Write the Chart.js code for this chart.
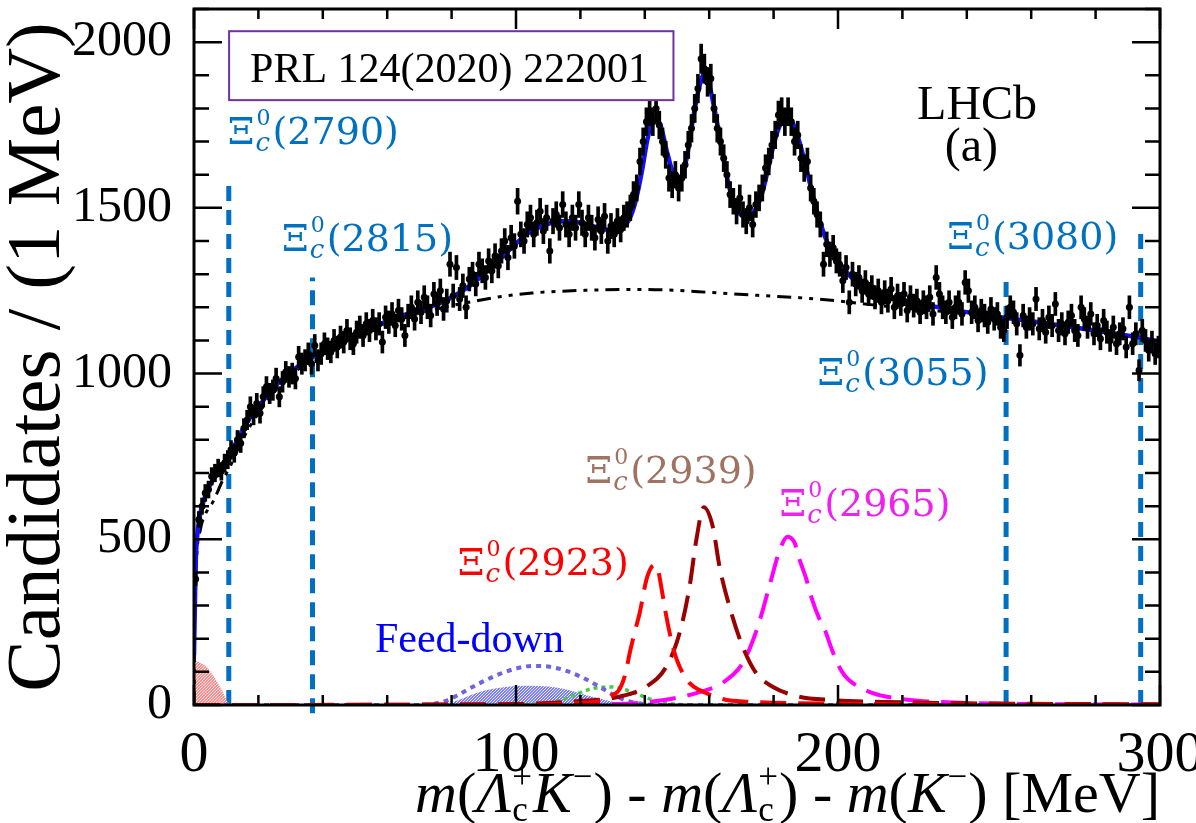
<!DOCTYPE html>
<html>
<head>
<meta charset="utf-8">
<script src="https://cdn.jsdelivr.net/npm/chart.js@4.4.0/dist/chart.umd.min.js"></script>
<style>
  html, body { margin: 0; padding: 0; background: #fff; }
  #wrap { width: 1196px; height: 823px; }
</style>
</head>
<body>
<div id="wrap"><canvas id="c" width="1196" height="823"></canvas></div>
<script>
// candidates per 1 MeV bin, bins start at 0 MeV
const counts = [
  380, 560, 600, 640, 650, 690, 700, 715, 705, 730,
  740, 770, 760, 800, 790, 835, 860, 900, 875, 910,
  880, 930, 960, 940, 950, 985, 930, 975, 1005, 990,
  1000, 985, 1050, 1030, 1040, 1060, 1030, 1085, 1040, 1060,
  1090, 1075, 1065, 1100, 1080, 1110, 1095, 1130, 1105, 1090,
  1125, 1140, 1115, 1150, 1130, 1160, 1135, 1150, 1095, 1170,
  1155, 1180, 1145, 1190, 1165, 1115, 1175, 1200, 1165, 1215,
  1185, 1230, 1200, 1175, 1240, 1210, 1250, 1195, 1220, 1330,
  1235, 1320, 1225, 1265, 1200, 1285, 1300, 1270, 1330, 1310,
  1290, 1340, 1310, 1355, 1325, 1370, 1400, 1350, 1410, 1385,
  1520, 1420, 1400, 1450, 1470, 1420, 1455, 1490, 1430, 1470,
  1370, 1460, 1480, 1440, 1510, 1450, 1420, 1470, 1440, 1510,
  1455, 1420, 1470, 1440, 1410, 1465, 1430, 1475, 1400, 1445,
  1420, 1460, 1435, 1470, 1480, 1500, 1540, 1560, 1640, 1700,
  1760, 1790, 1760, 1800, 1750, 1700, 1660, 1590, 1570, 1600,
  1560, 1590, 1630, 1690, 1740, 1800, 1860, 1950, 1920, 1880,
  1890, 1800, 1740, 1700, 1650, 1600, 1540, 1520, 1490, 1530,
  1480, 1460, 1500, 1450, 1510, 1530, 1560, 1620, 1640, 1690,
  1720, 1780, 1790, 1760, 1790, 1760, 1700, 1720, 1650, 1620,
  1640, 1560, 1520, 1480, 1450, 1330, 1390, 1360, 1380, 1340,
  1330, 1280, 1320, 1215, 1300, 1270, 1290, 1250, 1275, 1240,
  1260, 1230, 1250, 1215, 1245, 1220, 1255, 1200, 1235, 1210,
  1240, 1190, 1230, 1205, 1220, 1185, 1215, 1200, 1230, 1180,
  1290, 1240, 1200, 1185, 1215, 1170, 1200, 1215, 1180, 1275,
  1250, 1185, 1200, 1160, 1190, 1175, 1155, 1195, 1165, 1180,
  1140, 1130, 1170, 1200, 1185, 1150, 1055, 1175, 1140, 1165,
  1150, 1225, 1135, 1160, 1125, 1170, 1145, 1210, 1130, 1150,
  1120, 1155, 1175, 1130, 1115, 1200, 1165, 1140, 1180, 1120,
  1145, 1105, 1160, 1125, 1100, 1140, 1090, 1120, 1135, 1080,
  1200, 1090, 1120, 1010, 1130, 1100, 1070, 1095, 1060, 1080
];

// total fit
const fitX = [0, 0.5, 1, 2, 3, 4, 6, 8, 10, 12, 14, 17, 20, 25, 30, 36, 42, 48, 55, 61, 67, 73, 79, 85, 90, 95, 100, 104, 110, 115, 120, 125, 130, 133, 135, 137, 139, 141, 143, 145, 147, 149, 151, 153, 155, 157, 158.5, 160, 162, 164, 166, 168, 170, 172, 174, 176, 178, 180, 182, 184, 186, 188, 190, 192, 194, 196, 198, 200, 204, 208, 213, 219, 227, 235, 244, 252, 262, 271, 281, 291, 300];
const fitY = [150, 420, 510, 580, 615, 645, 680, 705, 728, 770, 810, 862, 900, 960, 1005, 1045, 1075, 1103, 1135, 1163, 1182, 1200, 1225, 1260, 1300, 1345, 1392, 1425, 1452, 1460, 1455, 1442, 1432, 1440, 1462, 1515, 1605, 1715, 1772, 1745, 1665, 1600, 1588, 1650, 1770, 1868, 1905, 1872, 1780, 1672, 1572, 1505, 1478, 1473, 1490, 1530, 1605, 1690, 1750, 1770, 1755, 1700, 1625, 1545, 1472, 1412, 1370, 1340, 1292, 1265, 1242, 1225, 1208, 1193, 1180, 1168, 1155, 1143, 1128, 1113, 1097];

// combinatorial background
const bkgX = [0, 0.2, 0.8, 2, 3, 6, 9, 11, 14, 17, 20, 25, 30, 40, 50, 60, 70, 80, 87, 95, 105, 113, 125, 139, 150, 160, 175, 188, 201, 210, 220, 235, 252, 271, 291, 300];
const bkgY = [0, 250, 440, 530, 565, 615, 680, 715, 780, 835, 880, 945, 995, 1060, 1110, 1150, 1182, 1205, 1218, 1232, 1243, 1248, 1252, 1254, 1251, 1245, 1236, 1229, 1218, 1208, 1198, 1185, 1166, 1142, 1113, 1097];

// Xi_c(2923)
const s2923X = [0, 100, 120, 126, 130, 132, 134, 135.3, 137, 138.4, 140.5, 142, 143.3, 144.3, 145.1, 146.7, 148.7, 150, 151.8, 154, 157, 161, 165, 172, 180, 200, 230, 300];
const s2923Y = [0, 1, 6, 12, 30, 45, 95, 156, 225, 277, 378, 415, 423, 400, 357, 267, 176, 135, 96, 65, 45, 28, 16, 10, 7, 4, 2, 1];

// Xi_c(2939)
const s2939X = [0, 100, 120, 132, 140.4, 146.7, 150.8, 153.9, 156, 158.3, 161.1, 163.2, 166.3, 170.4, 174.6, 179.7, 188, 198, 215, 240, 270, 300];
const s2939Y = [0, 3, 12, 25, 55, 116, 217, 357, 498, 597, 539, 418, 297, 176, 96, 55, 25, 15, 9, 5, 3, 2];

// Xi_c(2965)
const s2965X = [0, 100, 130, 140, 148, 156, 164, 170, 173, 176, 179, 182, 184.3, 186.5, 188, 190, 192, 194, 196, 198, 200, 202, 204.6, 210.8, 217, 225, 240, 260, 300];
const s2965Y = [0, 1, 3, 8, 18, 36, 66, 120, 180, 265, 370, 470, 508, 490, 440, 385, 317, 265, 225, 170, 122, 90, 66, 36, 22, 13, 6, 3, 1];

// feed-down (dotted) and its hatched part
const feedX = [0, 70, 74, 78, 82, 86, 90, 95, 100, 105, 110, 115, 120, 125, 130, 134, 138, 142, 146, 300];
const feedY = [0, 0, 3, 12, 30, 52, 72, 94, 110, 118, 116, 105, 86, 60, 32, 14, 5, 1, 0, 0];
const feed2X = [74, 78, 82, 86, 90, 95, 100, 105, 110, 115, 120, 125, 130, 135, 140];
const feed2Y = [0, 4, 14, 30, 43, 52, 57, 58, 56, 48, 35, 22, 10, 3, 0];

// green dotted component
const greenX = [100, 106, 110, 114, 118, 122, 126, 130, 134, 138, 142, 146, 150, 155];
const greenY = [0, 2, 6, 15, 30, 45, 53, 54, 46, 32, 17, 7, 2, 0];

// threshold component near 0
const thrX = [0, 1, 2, 3, 4, 5, 6, 7, 8, 9, 10, 11, 12];
const thrY = [132, 131, 127, 122, 114, 102, 88, 72, 56, 38, 18, 3, 0];

// known states marked by vertical lines
const stateNames = ['2790', '2815', '3055', '3080'];
const stateX = [10.8, 36.8, 252.2, 294.0];
const stateLow = [0, -25, 0, 0];
const stateTop = [1580, 1290, 1290, 1435];

const xy = (xs, ys) => xs.map((x, i) => ({ x: x, y: ys[i] }));

function hatch(color) {
  const c = document.createElement('canvas');
  c.width = 3; c.height = 3;
  const g = c.getContext('2d');
  g.fillStyle = color;
  g.fillRect(0, 0, 3, 3);
  g.fillStyle = 'rgba(255,255,255,0.85)';
  g.fillRect(0, 0, 1, 1);
  g.fillRect(2, 1, 1, 1);
  g.fillRect(1, 2, 1, 1);
  return g.createPattern(c, 'repeat');
}

const pts = counts.map((v, i) => ({ x: i + 0.5, y: v }));
const errs = counts.map((v, i) => ({ x: i + 0.5, y: [v - Math.sqrt(v), v + Math.sqrt(v)] }));

const curve = (data, color, width, dash, order) => ({
  type: 'line', data: data, borderColor: color, borderWidth: width, borderDash: dash,
  pointRadius: 0, fill: false, cubicInterpolationMode: 'monotone', order: order
});

const datasets = [
  { type: 'line', data: pts, showLine: false, pointRadius: 3.5, pointBackgroundColor: '#000',
    pointBorderWidth: 0, order: 0 },
  { type: 'bar', data: errs, backgroundColor: '#000', barThickness: 3, grouped: false, order: 1 },
  curve(xy(fitX, fitY), '#1010ff', 4.5, [], 2),
  curve(xy(bkgX, bkgY), '#000', 3, [14, 7, 4, 7, 4, 7], 3),
  curve(xy(s2923X, s2923Y), '#ff0000', 4, [26, 12], 4),
  curve(xy(s2939X, s2939Y), '#990000', 4, [26, 12], 4),
  curve(xy(s2965X, s2965Y), '#ff00ff', 4, [26, 12], 4),
  curve(xy(feedX, feedY), '#6e64e0', 4, [5, 5], 5),
  curve(xy(greenX, greenY), '#44cc44', 3.5, [4, 4], 5),
  Object.assign(curve(xy(feed2X, feed2Y), 'transparent', 0, [], 6),
    { fill: 'origin', backgroundColor: hatch('rgba(70,70,255,0.7)') }),
  Object.assign(curve(xy(thrX, thrY), 'transparent', 0, [], 6),
    { fill: 'origin', backgroundColor: hatch('rgba(255,90,90,0.7)') })
];
stateX.forEach((x, i) => {
  datasets.push({ type: 'line', data: [{ x: x, y: stateLow[i] }, { x: x, y: stateTop[i] }],
    borderColor: '#0070c0', borderWidth: 5, borderDash: [15, 9], pointRadius: 0, clip: false, order: 7 });
});

// Xi_c labels: [name, x, y(baseline), colour]
const labels = [
  ['2790', 10.5, 1692, '#0070c0'],
  ['2815', 27.3, 1369, '#0070c0'],
  ['3055', 193.6, 967, '#0070c0'],
  ['3080', 233.9, 1375, '#0070c0'],
  ['2923', 81.9, 393, '#ff0000'],
  ['2939', 121.6, 671, '#a07262'],
  ['2965', 181.8, 571, '#ee22ee']
];

function xiLabel(ctx, name, left, base, color) {
  ctx.fillStyle = color;
  ctx.textAlign = 'left';
  ctx.textBaseline = 'alphabetic';
  ctx.font = '38px "DejaVu Serif"';
  ctx.fillText('Ξ', left, base);
  let x = left + ctx.measureText('Ξ').width + 1;
  ctx.font = '22px "DejaVu Serif"';
  ctx.fillText('0', x + 1, base - 19);
  const w0 = ctx.measureText('0').width + 1;
  ctx.font = 'italic 26px "DejaVu Serif"';
  ctx.fillText('c', x, base + 7);
  const wc = ctx.measureText('c').width;
  x += Math.max(w0, wc) + 2;
  ctx.font = '38px "DejaVu Serif"';
  ctx.fillText('(' + name + ')', x, base);
}

const xTitle = [
  { t: 'm', it: true }, { t: '(' }, { t: 'Λ', it: true }, { sub: 'c', sup: '+' }, { t: 'K', it: true },
  { sup: '−' }, { t: ') - ' }, { t: 'm', it: true }, { t: '(' }, { t: 'Λ', it: true }, { sub: 'c', sup: '+' },
  { t: ') - ' }, { t: 'm', it: true }, { t: '(' }, { t: 'K', it: true }, { sup: '−' }, { t: ') [MeV]' }
];

function richText(ctx, parts, right, base, size) {
  const big = it => (it ? 'italic ' : '') + size + 'px "Liberation Serif"';
  const small = Math.round(size * 0.6) + 'px "Liberation Serif"';
  const widthOf = p => {
    if (p.t) { ctx.font = big(p.it); return ctx.measureText(p.t).width; }
    ctx.font = small;
    return Math.max(p.sub ? ctx.measureText(p.sub).width : 0, p.sup ? ctx.measureText(p.sup).width : 0) + 2;
  };
  let x = right - parts.reduce((s, p) => s + widthOf(p), 0);
  ctx.textAlign = 'left';
  ctx.textBaseline = 'alphabetic';
  parts.forEach(p => {
    const w = widthOf(p);
    if (p.t) { ctx.font = big(p.it); ctx.fillText(p.t, x, base); }
    else {
      ctx.font = small;
      if (p.sup) ctx.fillText(p.sup, x + 1, base - size * 0.42);
      if (p.sub) ctx.fillText(p.sub, x + 1, base + size * 0.16);
    }
    x += w;
  });
}

const framePlugin = {
  id: 'frame',
  afterDatasetsDraw(chart) {
    const { ctx, chartArea: a, scales: { x, y } } = chart;
    ctx.save();
    ctx.strokeStyle = '#000';
    ctx.lineWidth = 3;
    ctx.strokeRect(a.left, a.top, a.right - a.left, a.bottom - a.top);
    ctx.lineWidth = 2.5;
    ctx.beginPath();
    x.ticks.forEach(t => {
      const px = x.getPixelForValue(t.value);
      const len = t.value % 100 === 0 ? 20 : 10;
      ctx.moveTo(px, a.bottom); ctx.lineTo(px, a.bottom - len);
      ctx.moveTo(px, a.top); ctx.lineTo(px, a.top + len);
    });
    y.ticks.forEach(t => {
      const py = y.getPixelForValue(t.value);
      const len = t.value % 500 === 0 ? 28 : 15;
      ctx.moveTo(a.left, py); ctx.lineTo(a.left + len, py);
      ctx.moveTo(a.right, py); ctx.lineTo(a.right - len, py);
    });
    ctx.stroke();
    ctx.restore();
  },
  afterDraw(chart) {
    const { ctx, scales: { x, y } } = chart;
    const X = v => x.getPixelForValue(v), Y = v => y.getPixelForValue(v);
    ctx.save();
    labels.forEach(l => xiLabel(ctx, l[0], X(l[1]), Y(l[2]), l[3]));

    ctx.fillStyle = '#0000ff';
    ctx.font = '42px "Liberation Serif"';
    ctx.textAlign = 'left';
    ctx.fillText('Feed-down', X(56.2), Y(160));

    ctx.fillStyle = '#000';
    ctx.font = '48px "Liberation Serif"';
    ctx.textAlign = 'center';
    ctx.fillText('LHCb', X(243.2), Y(1767));
    ctx.fillText('(a)', X(241.4), Y(1640));

    ctx.fillStyle = '#fff';
    ctx.fillRect(X(10.9), Y(2033), X(148.9) - X(10.9), Y(1825) - Y(2033));
    ctx.strokeStyle = '#7030a0';
    ctx.lineWidth = 2;
    ctx.strokeRect(X(10.9), Y(2033), X(148.9) - X(10.9), Y(1825) - Y(2033));
    ctx.fillStyle = '#000';
    ctx.font = '42px "Liberation Serif"';
    ctx.textAlign = 'left';
    ctx.fillText('PRL 124(2020) 222001', X(17.4), Y(1879));

    richText(ctx, xTitle, x.right, 812, 58);
    ctx.restore();
  }
};

new Chart(document.getElementById('c'), {
  type: 'line',
  data: { datasets: datasets },
  options: {
    responsive: false,
    animation: false,
    devicePixelRatio: 1,
    layout: { padding: { top: 9, right: 36, left: 0, bottom: 0 } },
    plugins: { legend: { display: false }, tooltip: { enabled: false } },
    scales: {
      x: {
        type: 'linear', min: 0, max: 300, offset: false,
        grid: { display: false }, border: { display: false },
        ticks: {
          stepSize: 20, autoSkip: false, maxRotation: 0, padding: 8, color: '#000',
          font: { family: 'Liberation Serif', size: 58 },
          callback: v => (v % 100 === 0 ? String(v) : '')
        },
        afterFit(s) { s.height = 118; s.paddingLeft = 0; s.paddingRight = 0; }
      },
      y: {
        min: 0, max: 2100,
        grid: { display: false }, border: { display: false },
        ticks: {
          stepSize: 100, autoSkip: false, padding: 14, color: '#000',
          font: { family: 'Liberation Serif', size: 50 },
          callback: v => (v % 500 === 0 && v <= 2000 ? String(v) : '')
        },
        title: {
          display: true, text: 'Candidates / (1 MeV)', color: '#000', padding: 0,
          font: { family: 'Liberation Serif', size: 77, lineHeight: 1 }
        },
        afterFit(s) { s.width = 194; s.paddingTop = 0; s.paddingBottom = 0; }
      }
    }
  },
  plugins: [framePlugin]
});
</script>
</body>
</html>
